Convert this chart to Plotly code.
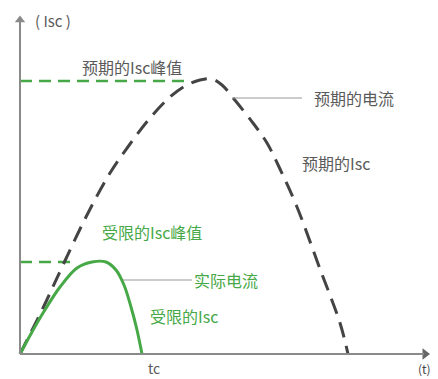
import plotly.graph_objects as go

# координаты относительно начала осей (ед. ~ пиксели исходной схемы)
expected_t = [0, 23, 43, 67, 90, 110, 130, 150, 165, 180, 192, 202, 214, 233, 247, 260, 277, 300, 320, 328]
expected_i = [0, 46, 89, 139, 181, 210, 236, 257, 268, 274, 275, 269, 255, 231, 211, 185, 147, 85, 31, 0]

actual_t = [0, 12, 23, 40, 57, 72, 86, 96, 104, 111, 117, 122]
actual_i = [0, 22, 41, 67, 86, 92, 92, 84, 69, 47, 24, 0]

expected_peak = 273
limited_peak = 92
tc = 122

GRAY = "#5a5a5a"
GREEN = "#46a846"
AXIS = "#8a8a8a"
FONT = "Noto Sans CJK SC"

fig = go.Figure()
fig.add_trace(go.Scatter(x=[0, 170], y=[expected_peak] * 2, mode="lines",
                         line=dict(color=GREEN, width=2.5, dash="12px,7px")))
fig.add_trace(go.Scatter(x=[0, 56], y=[limited_peak] * 2, mode="lines",
                         line=dict(color=GREEN, width=2.5, dash="12px,7px")))
fig.add_trace(go.Scatter(x=expected_t, y=expected_i, mode="lines", line_shape="spline",
                         line=dict(color="#444444", width=3, dash="16px,9px")))
fig.add_trace(go.Scatter(x=actual_t, y=actual_i, mode="lines", line_shape="spline",
                         line=dict(color=GREEN, width=3)))

# выноски
fig.add_shape(type="line", x0=212, x1=282, y0=256, y1=256, line=dict(color="#999999", width=1.2))
fig.add_shape(type="line", x0=103, x1=172, y0=74, y1=74, line=dict(color="#999999", width=1.2))

# оси со стрелками
fig.add_shape(type="line", x0=0, x1=0, y0=0, y1=334, line=dict(color=AXIS, width=2))
fig.add_shape(type="line", x0=0, x1=404, y0=0, y1=0, line=dict(color=AXIS, width=2))
fig.add_trace(go.Scatter(x=[0], y=[334], mode="markers", cliponaxis=False,
                         marker=dict(symbol="triangle-up", size=9, color=AXIS)))
fig.add_trace(go.Scatter(x=[405], y=[0], mode="markers", cliponaxis=False,
                         marker=dict(symbol="triangle-right", size=10, color="#666666")))

labels = [
    ("( Isc )", 13, 334, "left", GRAY, 15),
    ("预期的Isc峰值", 60, 287, "left", GRAY, 16),
    ("预期的电流", 292, 256, "left", GRAY, 16),
    ("预期的Isc", 280, 191, "left", GRAY, 16),
    ("受限的Isc峰值", 80, 122, "left", GREEN, 16),
    ("实际电流", 172, 74, "left", GREEN, 16),
    ("受限的Isc", 128, 38, "left", GREEN, 16),
    ("tc", tc + 12, -14, "center", GRAY, 14),
    ("(t)", 404, -14, "center", "#444444", 12),
]
for text, x, y, anchor, color, size in labels:
    fig.add_annotation(x=x, y=y, text=text, showarrow=False, xanchor=anchor,
                       font=dict(family=FONT, size=size, color=color))

# страница имеет отступ 8px, поэтому фигура на 8px меньше окна
fig.update_xaxes(range=[-12, 418], visible=False)
fig.update_yaxes(range=[-25, 346], visible=False)
fig.update_layout(width=430, height=371, margin=dict(l=0, r=0, t=0, b=0),
                  showlegend=False, plot_bgcolor="white", paper_bgcolor="white")
fig.write_html("out.html")
